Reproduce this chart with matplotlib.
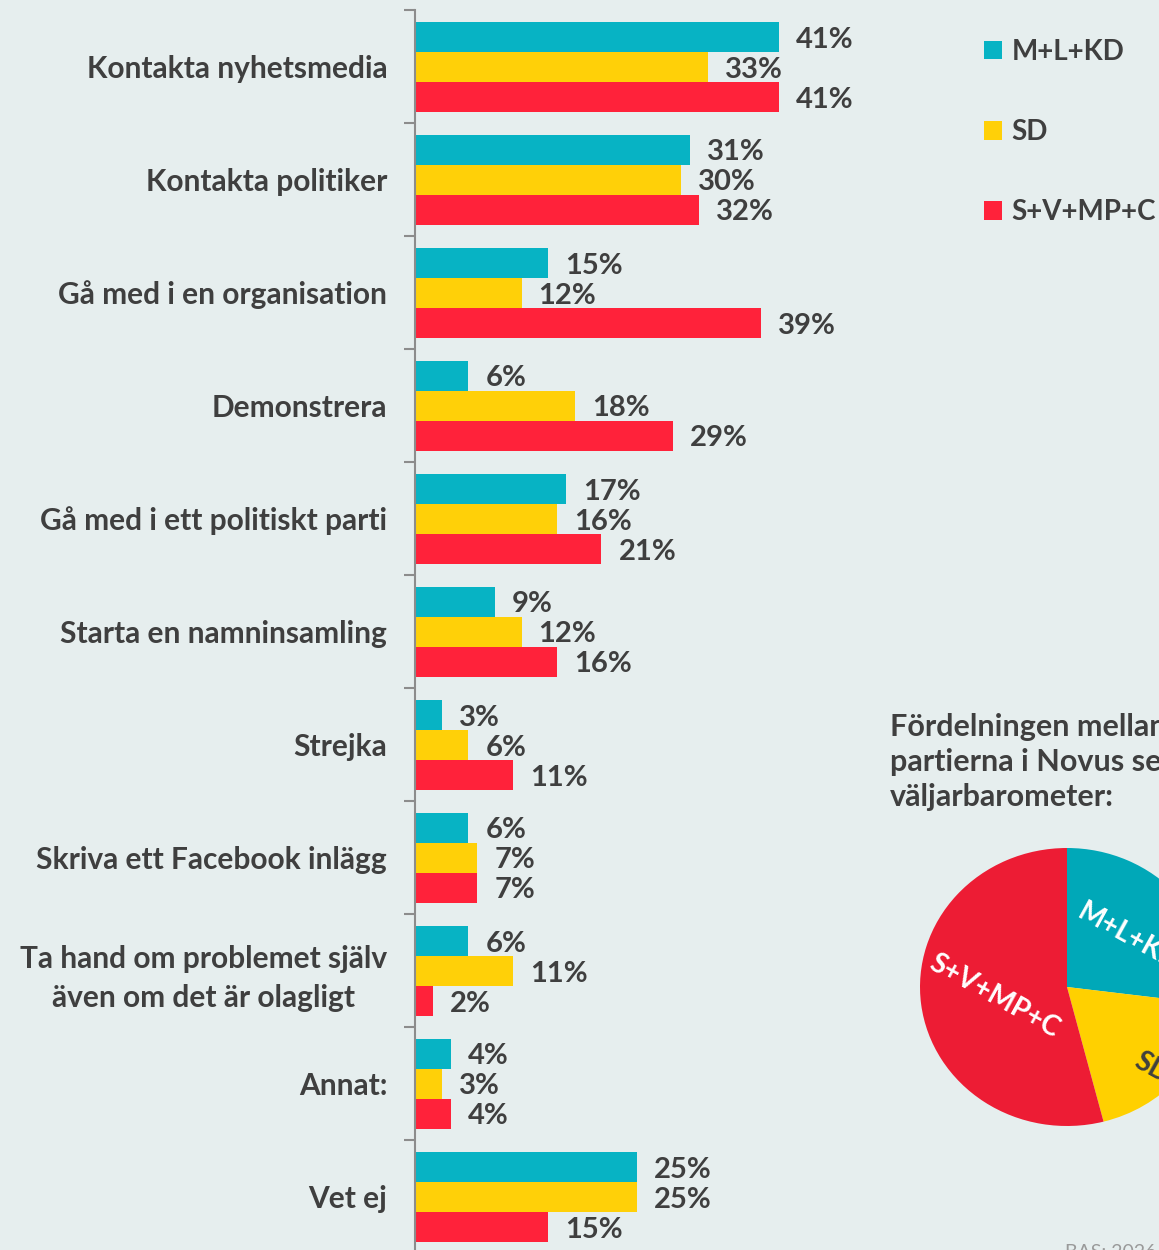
import matplotlib
matplotlib.use('Agg')
import matplotlib.pyplot as plt
import numpy as np

plt.rcParams['font.family'] = ['Lato', 'DejaVu Sans']

# data
categories = ["Kontakta nyhetsmedia", "Kontakta politiker", "Gå med i en organisation",
              "Demonstrera", "Gå med i ett politiskt parti", "Starta en namninsamling",
              "Strejka", "Skriva ett Facebook inlägg",
              "Ta hand om problemet själv\näven om det är olagligt", "Annat:", "Vet ej"]
series = ["M+L+KD", "SD", "S+V+MP+C"]
mlkd = [41, 31, 15, 6, 17, 9, 3, 6, 6, 4, 25]
sd = [33, 30, 12, 18, 16, 12, 6, 7, 11, 3, 25]
svmpc = [41, 32, 39, 29, 21, 16, 11, 7, 2, 4, 15]
pie_labels = ["M+L+KD", "SD", "S+V+MP+C"]
pie_shares = [27, 19, 54]

BG = '#E6EEEE'
TXT = '#3F3F3F'
bar_colors = ['#07B3C4', '#FFD008', '#FF223A']
pie_colors = ['#00A8B8', '#FFD000', '#ED1C34']

W, H = 1159, 1250
fig = plt.figure(figsize=(W / 100, H / 100), dpi=100, facecolor=BG)

# bar chart axes: x from 415 px, categories 113 px each starting at y=10
top_px, step = 10, 113
n = len(categories)
ax = fig.add_axes([415 / W, 1 - (top_px + step * n) / H, 445 / W, step * n / H])
ax.set_facecolor(BG)
px_per_pct = 8.88
ax.set_xlim(0, 445 / px_per_pct)
ax.set_ylim(n - 0.5, -0.5)

y = np.arange(n)
bh = 30 / step
for k, (vals, col, name) in enumerate(zip([mlkd, sd, svmpc], bar_colors, series)):
    pos = y + (k - 1) * bh
    ax.barh(pos, vals, height=bh, color=col, label=name, edgecolor='none')
    for p, v in zip(pos, vals):
        ax.annotate(f"{v}%", (v, p), xytext=(17, -3), textcoords='offset pixels',
                    va='center', ha='left', fontsize=21, fontweight='bold',
                    color=TXT, annotation_clip=False)

for s in ['top', 'right', 'bottom']:
    ax.spines[s].set_visible(False)
ax.spines['left'].set_color('#8C8C8C')
ax.spines['left'].set_linewidth(1.5)
ax.set_xticks([])
ax.set_yticks(y)
ax.set_yticklabels(categories, fontsize=21.5, fontweight='bold', color=TXT,
                   multialignment='center', linespacing=1.5)
ax.tick_params(axis='y', which='major', length=0, pad=20)
ax.set_yticks(np.arange(-0.5, n, 1), minor=True)
ax.tick_params(axis='y', which='minor', length=8, width=1.5, color='#8C8C8C')

# legend
fig.legend(loc='upper left', bbox_to_anchor=(970 / W, 1 - 25 / H), frameon=False,
           prop={'size': 20, 'weight': 'bold'}, labelcolor=TXT, labelspacing=1.95,
           handlelength=0.65, handleheight=0.65, handletextpad=0.35, borderpad=0)

# pie section
fig.text(890 / W, 1 - 713 / H, "Fördelningen mellan\npartierna i Novus senaste\nväljarbarometer:",
         ha='left', va='top', fontsize=22, fontweight='bold', color=TXT, linespacing=1.3)

cx, cy, rx, ry = 1067, 987, 147, 139
pax = fig.add_axes([(cx - rx) / W, 1 - (cy + ry) / H, 2 * rx / W, 2 * ry / H])
wedges, texts = pax.pie(pie_shares, labels=pie_labels, colors=pie_colors, startangle=90,
                        counterclock=False, labeldistance=0.5,
                        wedgeprops={'linewidth': 0},
                        textprops={'fontsize': 20, 'fontweight': 'bold', 'color': 'white',
                                   'ha': 'center', 'va': 'center'})
pax.set_aspect('auto')
pax.set_xlim(-1, 1)
pax.set_ylim(-1, 1)
for t in texts:
    t.set_rotation(-29)
    t.set_rotation_mode('anchor')
# SD label sits further out and is dark
texts[1].set_color(TXT)
texts[1].set_position((0.58, -0.58))
texts[0].set_position((0.42, 0.36))

fig.text(1065 / W, -0.001, "BAS: 2026 (n=1 000)", ha='left', va='center',
         fontsize=14, color='#9A9A9A')

fig.savefig('out.png', dpi=100, facecolor=BG)
